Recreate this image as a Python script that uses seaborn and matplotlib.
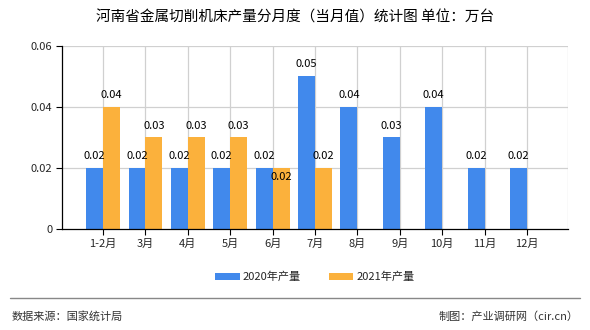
import matplotlib
matplotlib.use("Agg")
import matplotlib.pyplot as plt
import seaborn as sns
import pandas as pd
import numpy as np
from matplotlib.lines import Line2D

months = ["1-2月", "3月", "4月", "5月", "6月", "7月", "8月", "9月", "10月", "11月", "12月"]
v2020 = [0.02, 0.02, 0.02, 0.02, 0.02, 0.05, 0.04, 0.03, 0.04, 0.02, 0.02]
v2021 = [0.04, 0.03, 0.03, 0.03, 0.02, 0.02, np.nan, np.nan, np.nan, np.nan, np.nan]
series = ["2020年产量", "2021年产量"]
yticks = [0, 0.02, 0.04, 0.06]

sns.set_theme(style="white")
plt.rcParams['font.family'] = ['Noto Sans CJK SC', 'DejaVu Sans']

df = pd.DataFrame({
    "month": months * 2,
    "value": v2020 + v2021,
    "series": [series[0]] * len(months) + [series[1]] * len(months),
})

fig = plt.figure(figsize=(5.9, 3.3), dpi=100)
ax = fig.add_axes([0.105, 0.306, 0.858, 0.555])

palette = {series[0]: "#4189EC", series[1]: "#FBB13C"}
sns.barplot(data=df, x="month", y="value", hue="series", palette=palette,
            width=0.8, dodge=True, ax=ax, saturation=1, legend=True,
            linewidth=0, edgecolor="none")

ax.set_xlim(-0.97, 10.97)
ax.set_ylim(0, 0.06)
ax.set_yticks(yticks)
ax.set_yticklabels(["0", "0.02", "0.04", "0.06"], fontsize=8)
ax.set_xticks(range(len(months)))
ax.set_xticklabels(months, fontsize=8)
ax.set_xlabel("")
ax.set_ylabel("")

# grid lines
for y in yticks[1:]:
    ax.axhline(y, color="#d0d0d0", lw=0.9, zorder=0)
for x in list(range(len(months))) + [10.97]:
    ax.axvline(x, color="#d0d0d0", lw=0.9, zorder=0)

for s in ["top", "right"]:
    ax.spines[s].set_visible(False)
for s in ["left", "bottom"]:
    ax.spines[s].set_color("#000000")
    ax.spines[s].set_linewidth(0.9)
ax.tick_params(axis="both", length=4, width=0.8, color="#000000", direction="out",
               bottom=True, left=True, pad=3)
ax.set_axisbelow(True)

# data labels
for ci, cont in enumerate(ax.containers):
    vals = v2020 if ci == 0 else v2021
    for i, bar in enumerate(cont):
        v = vals[i]
        if v is None or (isinstance(v, float) and np.isnan(v)):
            continue
        x = bar.get_x() + bar.get_width() / 2
        if ci == 1 and i == 4:
            ax.annotate(f"{v:.2f}", (x, v), xytext=(0, -3), textcoords="offset points",
                        ha="center", va="top", fontsize=8, color="#000000")
        else:
            ax.annotate(f"{v:.2f}", (x, v), xytext=(0, 5), textcoords="offset points",
                        ha="center", va="bottom", fontsize=8, color="#000000")

leg = ax.legend(loc="center", bbox_to_anchor=(0.5, -0.262), ncol=2, frameon=False,
                fontsize=8, handlelength=2.2, handleheight=0.6, columnspacing=2.5,
                handletextpad=0.3)

fig.text(0.5, 0.948, "河南省金属切削机床产量分月度（当月值）统计图 单位：万台",
         ha="center", va="center", fontsize=10.5, color="#000000")

fig.add_artist(Line2D([0.017, 0.983], [0.097, 0.097], color="#888888", lw=1.0,
                      transform=fig.transFigure))
fig.text(0.02, 0.042, "数据来源：国家统计局", ha="left", va="center", fontsize=8, color="#333333")
fig.text(0.98, 0.042, "制图：产业调研网（cir.cn）", ha="right", va="center", fontsize=8, color="#333333")

fig.savefig("out.png", dpi=100)
